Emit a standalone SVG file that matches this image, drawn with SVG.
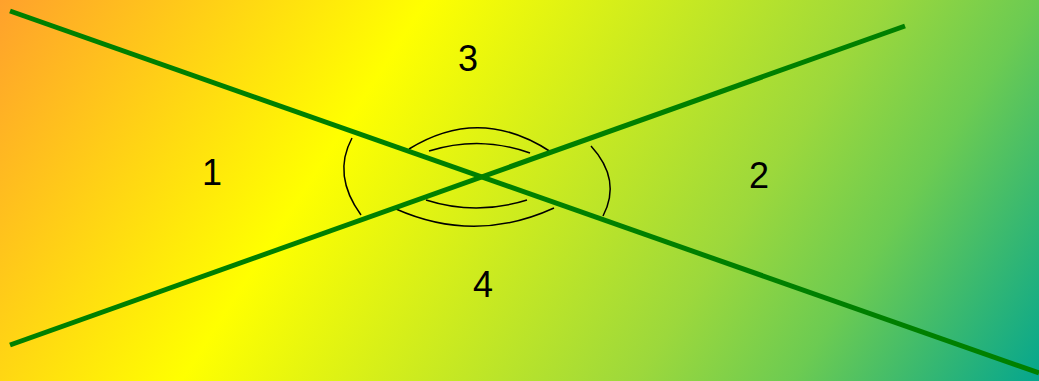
<svg xmlns="http://www.w3.org/2000/svg" width="1039" height="381" viewBox="0 0 1039 381">
<defs>
<linearGradient id="bg" gradientUnits="userSpaceOnUse" x1="0" y1="0" x2="1039" y2="670">
<stop offset="0" stop-color="#FFA12C"/>
<stop offset="0.29" stop-color="#FFFF00"/>
<stop offset="0.6" stop-color="#9CD83C"/>
<stop offset="0.706" stop-color="#6CCB52"/>
<stop offset="0.873" stop-color="#05A68E"/>
<stop offset="1" stop-color="#00A0A0"/>
</linearGradient>
<style>
.ln{stroke:#008000;stroke-width:5;fill:none}
.arc{stroke:#000;stroke-width:1.5;fill:none}
.lbl{font-family:"Liberation Sans",Arial,sans-serif;font-size:36px;fill:#000;text-anchor:middle}
</style>
</defs>
<rect x="0" y="0" width="1039" height="381" fill="url(#bg)"/>
<g id="arcs">
<path class="arc" d="M409,149 Q480,105 551,152"/>
<path class="arc" d="M429,151 Q480,135 530,153"/>
<path class="arc" d="M396,209 Q475,244 554,208"/>
<path class="arc" d="M426,200 Q476,216 527,200"/>
<path class="arc" d="M352,138 Q332,175 361,215"/>
<path class="arc" d="M591,146 Q622,180 603,216"/>
</g>
<g id="connectors">
<line class="ln" x1="10" y1="11" x2="1039" y2="373"/>
<line class="ln" x1="10" y1="345" x2="905" y2="26"/>
</g>
<g id="label1"><text class="lbl" x="212" y="185">1</text></g>
<g id="label2"><text class="lbl" x="759" y="188">2</text></g>
<g id="label3"><text class="lbl" x="468" y="71">3</text></g>
<g id="label4"><text class="lbl" x="483" y="297">4</text></g>
</svg>
